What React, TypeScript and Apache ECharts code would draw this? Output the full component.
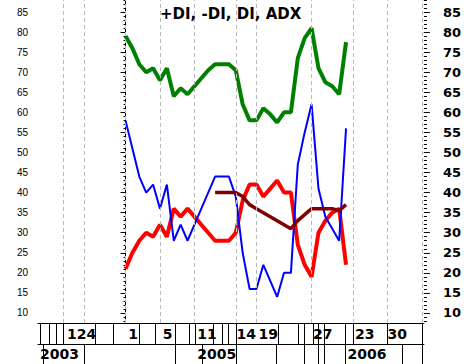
import React, { useEffect, useRef } from "react";
import * as echarts from "echarts";

// Weekly values, index 0 = first plotted week
const plusDI = [79, 76, 72, 70, 71, 68, 71, 64, 66, 64.5, 66.5, 68.5, 70.5, 72, 72, 72, 70.5, 62, 58, 58, 61, 59.5, 57.5, 60, 60, 73.5, 78.5, 81, 71, 67.5, 66.5, 64.5, 77.5];
const minusDI = [21, 25, 28, 30, 29, 32, 29, 36, 34, 36, 34, 32, 30, 28, 28, 28, 30, 38, 42, 42, 39, 41, 43, 40, 40, 27, 22, 19, 30, 33, 35, 36, 22];
const diLine = [58, 51, 44, 40, 42, 36, 42, 28, 32, 28, 32, 36, 40, 44, 44, 44, 39, 25, 16, 16, 22, 18, 14, 20, 20, 47, 55, 62, 41, 34, 31, 28, 56];
const adxStart = 13;
const adx = [40, 40, 40, 40, 39, 37, 36, 35, 34, 33, 32, 31, 33, 34.5, 36, 36, 36, 36, 35.5, 37];

// Axis ticks / labels
const yLabels = [10, 15, 20, 25, 30, 35, 40, 45, 50, 55, 60, 65, 70, 75, 80, 85];
const gridWeeks = [-9, -6, 0, 5, 10, 16, 19, 27, 33, 38, 43];
const dayLabelWeeks = [-8.5, 0.4, 5.4, 10.4, 16.1, 19.3, 27.2, 33.3, 38.0];
const dayLabels = ["124", "1", "5", "11", "14", "19", "27", "23", "30"];
const dayTickWeeks = [-12.4, -11.1, -10.1, -9.1, -4.4, -1.8, 2.0, 4.3, 7.2, 9.2, 10.1, 12.8, 14.1, 14.9, 16.0, 22.1, 25.0, 26.0, 27.2, 28.0, 28.8, 31.9, 33.0, 38.0, 43.1];
const yearLabelWeeks = [-12.4, 10.4, 32.2];
const yearLabels = ["2003", "2005", "2006"];
const yearTickWeeks = [-12.0, -6.0, 7.2, 11.2, 16.0, 21.9, 26.0, 28.0, 28.8, 31.9, 40.1, 43.1];

const X_MIN = -12.7;
const X_MAX = 43.3;
const Y_MIN = 7.5;
const Y_MAX = 88;

const minorTicks: number[] = [];
for (let v = 8; v <= 88; v++) minorTicks.push(v);

function nearestLabel(vals: number[], labels: string[], v: number) {
  let best = 0;
  for (let i = 1; i < vals.length; i++) {
    if (Math.abs(vals[i] - v) < Math.abs(vals[best] - v)) best = i;
  }
  return labels[best];
}

export default function App() {
  const ref = useRef<HTMLDivElement>(null);
  useEffect(() => {
    if (!ref.current) return;
    const chart = echarts.init(ref.current, null, { renderer: "svg" });
    const black = "#000000";
    const boldFont = "DejaVu Sans";
    const option: any = {
      animation: false,
      backgroundColor: "#ffffff",
      title: {
        text: "+DI, -DI, DI, ADX",
        left: 155,
        top: 1,
        textStyle: { fontFamily: boldFont, fontWeight: "bold", fontSize: 15, color: black },
      },
      grid: { left: 38, right: 40, top: 0, bottom: 41 },
      xAxis: [
        {
          type: "value",
          min: X_MIN,
          max: X_MAX,
          position: "bottom",
          axisLine: { show: true, lineStyle: { color: black, width: 1 } },
          axisTick: { show: true, customValues: dayTickWeeks, length: 21, lineStyle: { color: black } },
          axisLabel: {
            show: true,
            customValues: dayLabelWeeks,
            formatter: (v: number) => nearestLabel(dayLabelWeeks, dayLabels, v),
            align: "left",
            margin: 4,
            fontFamily: boldFont,
            fontWeight: "bold",
            fontSize: 14,
            color: black,
          },
          splitLine: { show: false },
        },
        {
          type: "value",
          min: X_MIN,
          max: X_MAX,
          position: "bottom",
          offset: 21,
          axisLine: { show: true, lineStyle: { color: black, width: 1 } },
          axisTick: { show: true, customValues: yearTickWeeks, length: 20, lineStyle: { color: black } },
          axisLabel: {
            show: true,
            customValues: yearLabelWeeks,
            formatter: (v: number) => nearestLabel(yearLabelWeeks, yearLabels, v),
            align: "left",
            margin: 3,
            fontFamily: boldFont,
            fontWeight: "bold",
            fontSize: 14,
            color: black,
          },
          splitLine: { show: false },
        },
      ],
      yAxis: [
        {
          type: "value",
          min: Y_MIN,
          max: Y_MAX,
          position: "left",
          axisLine: { show: true, lineStyle: { color: black } },
          axisTick: { show: true, customValues: yLabels, length: 5, lineStyle: { color: black } },
          axisLabel: {
            show: true,
            customValues: yLabels,
            margin: 10,
            fontFamily: "Liberation Sans",
            fontSize: 10,
            color: black,
          },
          splitLine: { show: false },
        },
        {
          type: "value",
          min: Y_MIN,
          max: Y_MAX,
          position: "left",
          axisLine: { show: false },
          axisTick: { show: true, customValues: minorTicks, length: 2, lineStyle: { color: black } },
          axisLabel: { show: false },
          splitLine: { show: false },
        },
        {
          type: "value",
          min: Y_MIN,
          max: Y_MAX,
          position: "right",
          axisLine: { show: false },
          axisTick: { show: true, customValues: yLabels, length: 6, lineStyle: { color: black } },
          axisLabel: {
            show: true,
            customValues: yLabels,
            margin: 19,
            align: "left",
            fontFamily: boldFont,
            fontWeight: "bold",
            fontSize: 13,
            color: black,
          },
          splitLine: { show: false },
        },
        {
          type: "value",
          min: Y_MIN,
          max: Y_MAX,
          position: "right",
          axisLine: { show: false },
          axisTick: { show: true, customValues: minorTicks, length: 3, lineStyle: { color: black } },
          axisLabel: { show: false },
          splitLine: { show: false },
        },
      ],
      series: [
        {
          type: "line",
          name: "grid",
          data: [],
          silent: true,
          markLine: {
            silent: true,
            symbol: ["none", "none"],
            label: { show: false },
            lineStyle: { color: "#b8b8b8", type: [4, 3], width: 1 },
            data: gridWeeks.map((w) => ({ xAxis: w })),
          },
        },
        {
          type: "line",
          name: "+DI",
          data: plusDI.map((v, i) => [i, v]),
          showSymbol: false,
          symbol: "none",
          lineStyle: { color: "#008000", width: 4 },
          itemStyle: { color: "#008000" },
        },
        {
          type: "line",
          name: "-DI",
          data: minusDI.map((v, i) => [i, v]),
          showSymbol: false,
          symbol: "none",
          lineStyle: { color: "#ff0000", width: 4 },
          itemStyle: { color: "#ff0000" },
        },
        {
          type: "line",
          name: "DI",
          data: diLine.map((v, i) => [i, v]),
          showSymbol: false,
          symbol: "none",
          lineStyle: { color: "#0000ff", width: 2 },
          itemStyle: { color: "#0000ff" },
        },
        {
          type: "line",
          name: "ADX",
          data: adx.map((v, i) => [i + adxStart, v]),
          showSymbol: false,
          symbol: "none",
          lineStyle: { color: "#800000", width: 3.5 },
          itemStyle: { color: "#800000" },
        },
      ],
    };
    chart.setOption(option);
    return () => chart.dispose();
  }, []);
  return (
    <div
      ref={ref}
      style={{ position: "fixed", left: 0, top: 0, width: 464, height: 364, background: "#fff" }}
    />
  );
}
